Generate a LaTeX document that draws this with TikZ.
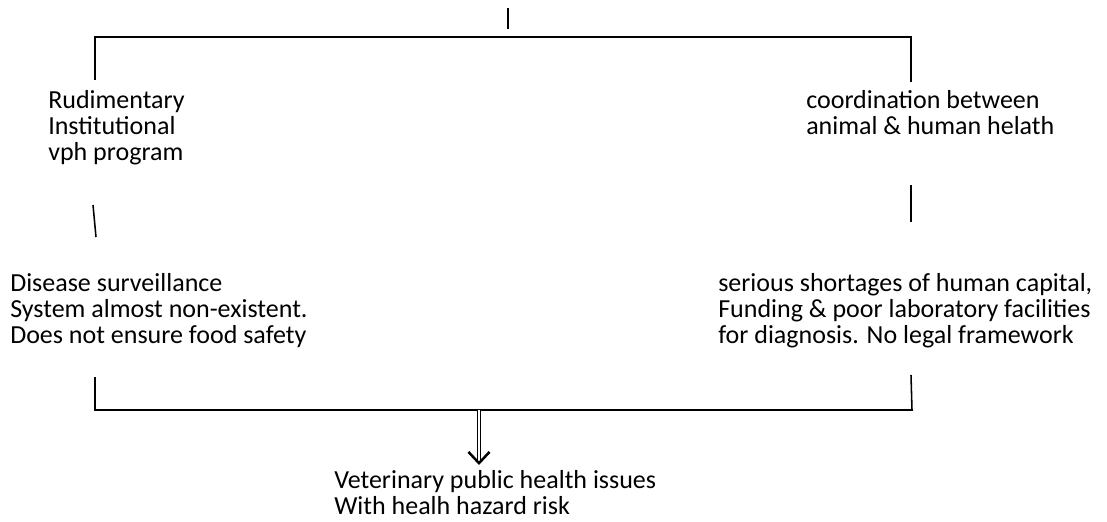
\documentclass[tikz,border=0pt]{standalone}
\usepackage{fontspec}
\setmainfont{Carlito}
\usetikzlibrary{arrows.meta}

\begin{document}
\begin{tikzpicture}[x=0.025cm,y=-0.025cm,
    note/.style={anchor=north west, align=left, inner sep=0pt,
      font=\fontsize{18.5}{18.5}\selectfont},
    rule/.style={line width=1.1pt}]
            \useasboundingbox (0,0) rectangle (1107,521);
            % text blocks
            \node [note] (rudiment) at (48,90) {Rudimentary\\Institutional\\vph program};
            \node [note] (coord) at (806,90) {coordination between\\animal \& human helath};
            \node [note] (surveil) at (10,273) {Disease surveillance\\System almost non-existent.\\Does not ensure food safety};
            \node [note] (shortage) at (718,273) {serious shortages of human capital,\\Funding \& poor laboratory facilities\\for diagnosis. No legal framework};
            \node [note] (issues) at (334,470) {Veterinary public health issues\\With healh hazard risk};
            % top bracket
            \coordinate (stemtop) at (508,8);
            \coordinate (stembot) at (508,29);
            \coordinate (topL) at (95,37);
            \coordinate (topR) at (911,37);
            \draw [rule] (stemtop) -- (stembot);
            \draw [rule] (95,80) -- (topL) -- (topR) -- (911,82);
            % middle ticks
            \draw [rule] (93,205) -- (96,237);
            \draw [rule] (911,185) -- (911,222);
            % bottom bracket
            \coordinate (botL) at (95,410);
            \coordinate (botR) at (912,410);
            \coordinate (join) at (479,410);
            \coordinate (tip) at (479,465);
            \draw [rule] (95,377) -- (botL) -- (botR) -- (911,375);
            \draw [double, double distance=1.4pt, line width=0.8pt,
                   -{Straight Barb[length=8pt,width=15pt,line width=1.8pt]}] (join) -- (tip);
        \end{tikzpicture}
\end{document}
